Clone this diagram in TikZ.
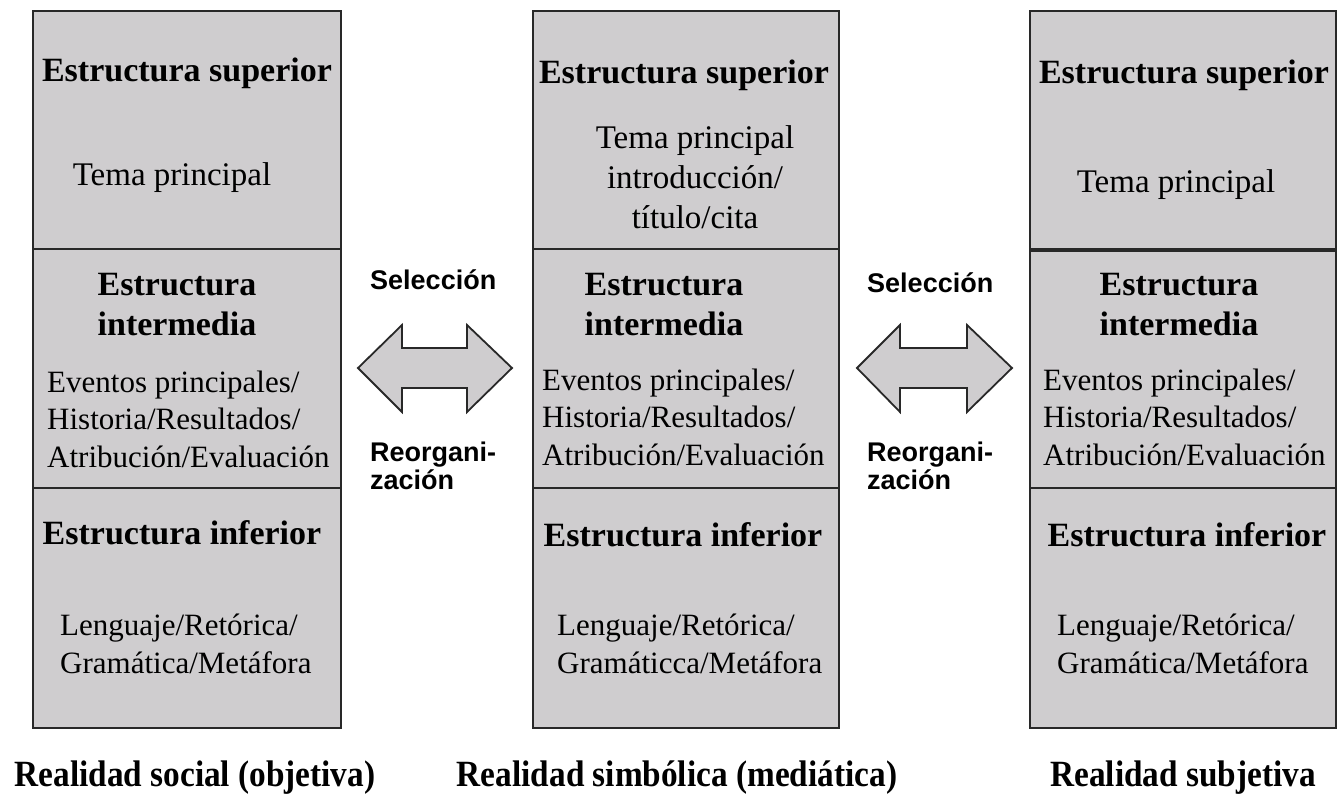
\documentclass[tikz,border=0pt]{standalone}
\usepackage{fontspec}
\setmainfont{Liberation Serif}
\newfontfamily\sansfam{Liberation Sans}
\definecolor{boxgray}{RGB}{207,205,207}
\definecolor{edge}{RGB}{40,40,40}
\begin{document}
\begin{tikzpicture}[x=1pt,y=-1pt,
  sect/.style={draw=edge, line width=2pt, fill=boxgray, inner sep=0pt, anchor=north west},
  hd/.style={font=\fontsize{34}{40}\selectfont\bfseries, align=center, inner sep=0pt},
  bd/.style={font=\fontsize{31}{37.5}\selectfont, inner sep=0pt},
  tema/.style={font=\fontsize{33}{40}\selectfont, align=center, inner sep=0pt},
  side/.style={font=\sansfam\bfseries\fontsize{27}{28}\selectfont, align=left, inner sep=0pt, anchor=west},
  lab/.style={font=\fontsize{37}{40}\selectfont\bfseries, inner sep=0pt, anchor=base},
  bigarrow/.style={draw=edge, line width=1.8pt, fill=boxgray, line join=miter}
]
\useasboundingbox (0,0) rectangle (1340,794);

% ---------- left column ----------
\node[sect, minimum width=308, minimum height=238] (Ltop) at (32,10) {};
\node[sect, minimum width=308, minimum height=239] (Lmid) at (32,248) {};
\node[sect, minimum width=308, minimum height=240] (Lbot) at (32,487) {};

% ---------- middle column ----------
\node[sect, minimum width=306, minimum height=238] (Mtop) at (532,10) {};
\node[sect, minimum width=306, minimum height=239] (Mmid) at (532,248) {};
\node[sect, minimum width=306, minimum height=240] (Mbot) at (532,487) {};

% ---------- right column ----------
\node[sect, minimum width=306, minimum height=238] (Rtop) at (1029,10) {};
\node[sect, minimum width=306, minimum height=239] (Rmid) at (1029,248) {};
\node[sect, minimum width=306, minimum height=240] (Rbot) at (1029,487) {};
\draw[edge, line width=3.5pt] (Rtop.south west) -- (Rtop.south east);

% ---------- texts left ----------
\node[hd] (Lh1) at (187,73) {Estructura superior};
\node[tema] (Lt1) at (172,178) {Tema principal};
\node[hd] (Lh2) at (177,305) {Estructura\\intermedia};
\node[bd, align=left, anchor=west] (Lb2) at (47,419) {Eventos principales/\\Historia/Resultados/\\Atribución/Evaluación};
\node[hd] (Lh3) at (182,533) {Estructura inferior};
\node[bd, align=left, anchor=west] (Lb3) at (60,644) {Lenguaje/Retórica/\\Gramática/Metáfora};

% ---------- texts middle ----------
\node[hd] (Mh1) at (684,75) {Estructura superior};
\node[tema] (Mt1) at (695,177) {Tema principal\\introducción/\\título/cita};
\node[hd] (Mh2) at (664,305) {Estructura\\intermedia};
\node[bd, align=left, anchor=west] (Mb2) at (542,417) {Eventos principales/\\Historia/Resultados/\\Atribución/Evaluación};
\node[hd] (Mh3) at (683,535) {Estructura inferior};
\node[bd, align=left, anchor=west] (Mb3) at (557,644) {Lenguaje/Retórica/\\Gramáticca/Metáfora};

% ---------- texts right ----------
\node[hd] (Rh1) at (1184,75) {Estructura superior};
\node[tema] (Rt1) at (1176,185) {Tema principal};
\node[hd] (Rh2) at (1179,305) {Estructura\\intermedia};
\node[bd, align=left, anchor=west] (Rb2) at (1043,417) {Eventos principales/\\Historia/Resultados/\\Atribución/Evaluación};
\node[hd] (Rh3) at (1187,535) {Estructura inferior};
\node[bd, align=left, anchor=west] (Rb3) at (1057,644) {Lenguaje/Retórica/\\Gramática/Metáfora};

% ---------- double arrows ----------
\coordinate (A1) at (435,368);
\draw[bigarrow] (358,368) -- (402,325) -- (402,348) -- (467,348) -- (467,325) -- (512,368)
  -- (467,412) -- (467,388) -- (402,388) -- (402,412) -- cycle;
\coordinate (A2) at (934,368);
\draw[bigarrow] (857,368) -- (900,325) -- (900,348) -- (967,348) -- (967,325) -- (1012,368)
  -- (967,412) -- (967,388) -- (900,388) -- (900,412) -- cycle;

\node[side] (S1) at (370,280) {Selección};
\node[side] (O1) at (370,466) {Reorgani-\\zación};
\node[side] (S2) at (867,283) {Selección};
\node[side] (O2) at (867,466) {Reorgani-\\zación};

% ---------- bottom labels ----------
\node[lab] (T1) at (195,786) {\scalebox{0.9}[1]{Realidad social (objetiva)}};
\node[lab] (T2) at (677,786) {\scalebox{0.9}[1]{Realidad simbólica (mediática)}};
\node[lab] (T3) at (1183,786) {\scalebox{0.9}[1]{Realidad subjetiva}};
\end{tikzpicture}
\end{document}
